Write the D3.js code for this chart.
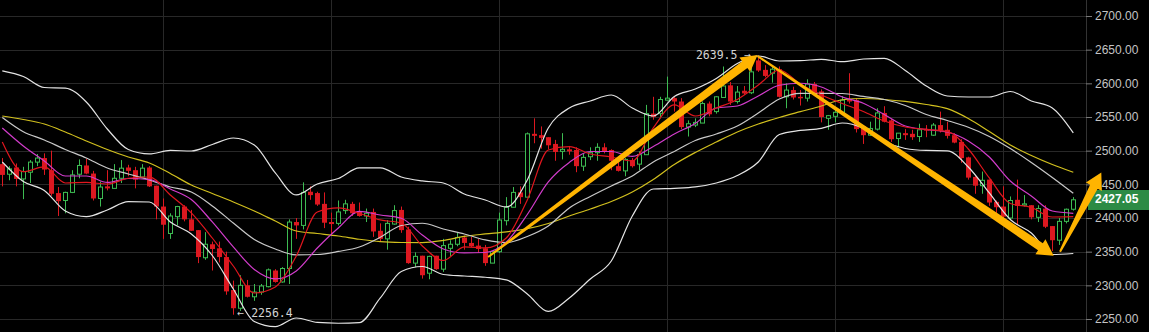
<!DOCTYPE html>
<html>
<head>
<meta charset="utf-8">
<script src="https://cdn.jsdelivr.net/npm/d3@7"></script>
<style>
  html, body { margin: 0; background: #000; overflow: hidden; }
  svg { display: block; }
</style>
</head>
<body>
<svg id="chart" width="1149" height="332"></svg>
<script>
// --- candles (one per bar, left to right) ---
const open = [2480,2465,2475,2458,2468,2483,2489,2471,2437,2426,
  2438,2465,2478,2466,2429,2447,2444,2459,2475,2471,
  2461,2475,2448,2417,2377,2402,2417,2398,2382,2341,
  2361,2355,2342,2293,2266,2300,2283,2290,2298,2322,
  2305,2325,2394,2389,2439,2437,2421,2394,2392,2411,
  2421,2409,2403,2409,2381,2369,2391,2412,2383,2333,
  2344,2318,2344,2324,2355,2361,2371,2363,2359,2355,
  2333,2350,2396,2416,2438,2431,2525,2523,2520,2510,
  2499,2502,2501,2477,2491,2497,2505,2501,2477,2470,
  2486,2480,2494,2555,2555,2575,2578,2573,2535,2538,
  2541,2570,2558,2579,2597,2573,2589,2586,2634,2620,
  2615,2621,2580,2590,2580,2578,2599,2588,2548,2551,
  2557,2576,2575,2536,2523,2532,2556,2545,2518,2526,
  2525,2521,2532,2523,2538,2531,2523,2513,2490,2461,
  2448,2457,2424,2417,2400,2427,2419,2419,2401,2414,
  2388,2367,2395,2413];
const high = [2489,2477,2481,2476,2486,2495,2496,2500,2446,2439,
  2471,2487,2488,2470,2454,2471,2480,2486,2479,2476,
  2480,2477,2448,2429,2407,2418,2419,2412,2382,2379,
  2365,2365,2350,2307,2315,2308,2302,2302,2325,2324,
  2327,2398,2400,2453,2447,2439,2438,2408,2426,2427,
  2424,2423,2414,2414,2392,2397,2419,2417,2387,2349,
  2344,2344,2344,2369,2367,2379,2374,2372,2369,2360,
  2350,2408,2431,2446,2447,2527,2548,2536,2520,2516,
  2526,2507,2505,2496,2505,2511,2511,2502,2486,2489,
  2489,2499,2568,2580,2580,2610,2580,2578,2545,2548,
  2573,2573,2581,2625,2602,2596,2596,2635,2639.5,2627,
  2627,2625,2600,2595,2590,2606,2602,2591,2553,2564,
  2581,2615,2578,2538,2543,2563,2566,2547,2526,2532,
  2531,2540,2538,2541,2558,2543,2526,2517,2491,2462,
  2469,2457,2426,2447,2432,2457,2434,2419,2419,2419,
  2388,2400,2414,2431];
const low = [2447,2456,2447,2428,2452,2477,2464,2433,2403,2407,
  2437,2459,2465,2426,2417,2441,2444,2452,2462,2444,
  2461,2446,2398,2369,2369,2389,2395,2381,2333,2338,
  2322,2334,2286,2256.4,2262,2282,2277,2286,2297,2304,
  2304,2302,2369,2383,2427,2418,2385,2374,2389,2406,
  2403,2402,2394,2372,2365,2353,2390,2378,2332,2327,
  2310,2309,2323,2320,2343,2358,2353,2357,2348,2329,
  2333,2348,2389,2416,2421,2431,2511,2503,2502,2485,
  2487,2494,2468,2470,2486,2485,2496,2471,2469,2462,
  2475,2471,2494,2546,2548,2575,2558,2532,2521,2535,
  2541,2551,2555,2579,2568,2570,2583,2584,2617,2609,
  2601,2579,2563,2576,2567,2573,2584,2542,2531,2542,
  2556,2570,2527,2510,2522,2530,2542,2513,2505,2516,
  2516,2513,2520,2522,2527,2518,2511,2482,2457,2436,
  2436,2418,2407,2397,2397,2390,2417,2398,2394,2385,
  2351,2360,2392,2411];
const close = [2464,2473,2458,2469,2483,2489,2472,2436,2425,2438,
  2464,2478,2466,2429,2446,2444,2459,2474,2470,2457,
  2474,2447,2417,2390,2403,2417,2398,2381,2342,2361,
  2354,2342,2291,2266,2300,2283,2290,2299,2323,2305,
  2325,2394,2389,2438,2434,2420,2393,2391,2409,2421,
  2407,2403,2407,2380,2369,2392,2411,2382,2333,2343,
  2315,2343,2324,2359,2361,2371,2363,2358,2354,2333,
  2350,2397,2416,2438,2431,2525,2522,2519,2508,2498,
  2502,2499,2477,2490,2497,2505,2499,2485,2470,2487,
  2477,2494,2555,2550,2576,2578,2573,2535,2540,2542,
  2570,2554,2580,2596,2573,2587,2585,2617,2619,2611,
  2621,2580,2590,2579,2578,2599,2586,2550,2552,2557,
  2575,2573,2532,2523,2533,2556,2543,2517,2526,2523,
  2520,2531,2530,2538,2530,2522,2512,2489,2460,2448,
  2456,2423,2416,2402,2426,2418,2421,2401,2414,2387,
  2367,2395,2413,2427.05];

// --- indicator lines, read every 3rd bar ---
const lineIdx = d3.range(0, 154, 3);
const bbUpper = [2618.6,2610.2,2593.8,2593.0,2572.3,2532.2,2501.7,2495.1,2500.3,2499.5,
  2509.2,2518.8,2508.4,2466.9,2434.2,2450.5,2458.7,2474.3,2474.3,2460.9,
  2455.0,2452.0,2435.7,2426.8,2416.4,2456.5,2533.7,2563.4,2573.8,2582.7,
  2563.4,2551.5,2580.5,2591.6,2607.2,2629.5,2640.6,2633.2,2633.6,2635.7,
  2632.1,2636.1,2637.2,2619.1,2596.0,2581.2,2579.7,2579.7,2587.9,2573.8,
  2563.4,2526.3];
const bbMid = [2549.3,2528.2,2515.9,2501.8,2489.1,2474.3,2465.4,2456.5,2446.1,2438.6,
  2417.9,2392.6,2368.1,2354.0,2345.1,2345.8,2350.3,2357.0,2371.4,2388.9,
  2392.2,2383.7,2376.3,2367.4,2363.4,2372.6,2388.2,2414.9,2432.0,2447.6,
  2462.4,2483.2,2498.8,2515.1,2524.8,2536.7,2556.0,2576.8,2585.2,2585.2,
  2584.9,2580.5,2576.0,2567.1,2553.7,2544.8,2534.7,2521.1,2503.2,2482.5,
  2460.2,2436.7];
const bbLower = [2483.2,2454.2,2440.9,2410.4,2402.0,2411.9,2424.2,2423.8,2394.1,2376.3,
  2344.3,2294.6,2246.3,2238.6,2251.5,2244.9,2243.7,2244.6,2281.2,2320.6,
  2328.0,2316.1,2313.9,2312.0,2308.0,2287.2,2261.2,2281.2,2309.5,2336.2,
  2403.0,2443.1,2444.1,2446.1,2452.0,2463.1,2483.2,2524.0,2530.0,2533.2,
  2541.1,2533.2,2513.6,2503.2,2500.3,2499.8,2475.8,2437.2,2397.8,2377.8,
  2345.8,2347.3];
const maSlow = [2551.5,2546.3,2539.6,2527.7,2514.4,2501.8,2490.6,2481.7,2466.1,2449.0,
  2436.4,2423.8,2410.4,2395.6,2380.7,2377.0,2373.3,2368.4,2364.8,2363.6,
  2363.4,2366.6,2372.6,2376.3,2379.5,2384.2,2391.9,2403.0,2413.4,2424.5,
  2438.6,2457.2,2479.5,2497.3,2512.9,2527.7,2539.6,2549.3,2557.9,2566.3,
  2575.6,2577.5,2576.0,2573.1,2568.6,2562.4,2547.8,2528.5,2508.4,2492.9,
  2479.5,2467.9];
const ma10 = [2533.7,2507.0,2484.7,2462.4,2462.4,2452.8,2458.7,2457.2,2443.1,2427.5,
  2394.1,2357.0,2323.6,2309.5,2321.4,2355.5,2385.2,2409.7,2404.5,2399.6,
  2374.8,2354.0,2348.1,2348.8,2364.4,2405.2,2453.5,2482.5,2498.8,2498.8,
  2491.4,2506.2,2524.8,2540.4,2563.4,2566.3,2581.2,2597.2,2600.1,2594.6,
  2579.7,2570.4,2553.7,2536.7,2531.5,2527.7,2514.4,2490.6,2455.0,2432.7,
  2410.4,2407.0];
const ma5 = [2512.9,2468.8,2475.8,2452.0,2452.8,2450.5,2459.0,2460.9,2434.2,2407.5,
  2370.3,2328.7,2288.6,2297.6,2343.6,2408.9,2414.9,2407.0,2397.1,2392.6,
  2358.5,2336.9,2357.0,2355.5,2370.3,2426.8,2501.0,2505.9,2495.1,2490.6,
  2484.7,2533.7,2567.9,2551.5,2563.4,2576.0,2597.5,2619.8,2599.0,2582.7,
  2570.1,2558.2,2544.1,2535.2,2531.5,2528.5,2502.5,2459.5,2421.6,2415.6,
  2401.5,2402.0];

// --- axis / annotations ---
const priceTicks = [2250, 2300, 2350, 2400, 2450, 2500, 2550, 2600, 2650, 2700];
const gridIdx = [23, 47, 71, 95, 119, 143];
const lastPrice = 2427.05;
const highMark = { idx: 108, price: 2639.5, text: "2639.5 →" };
const lowMark = { idx: 33, price: 2256.4, text: "← 2256.4" };
// trend arrows: [bar index, price] start -> tip
const arrows = [
  { from: [69.4, 2342], to: [107.9, 2642] },
  { from: [107.9, 2640.5], to: [150.2, 2344] },
  { from: [151.1, 2350], to: [157.0, 2467.5] }
];

const W = 1149, H = 332;
const plotRight = 1086;
const svg = d3.select("#chart");

svg.append("rect").attr("width", W).attr("height", H).attr("fill", "#000");

const x = d3.scaleLinear().domain([0, 153]).range([2.3, 1073.3]);
const y = d3.scaleLinear().domain([2250, 2700]).range([319, 16]);

// grid
const grid = svg.append("g").attr("stroke", "#282828").attr("stroke-width", 1);
grid.selectAll("line.h").data(priceTicks).join("line")
  .attr("x1", 0).attr("x2", plotRight)
  .attr("y1", d => Math.round(y(d)) + 0.5).attr("y2", d => Math.round(y(d)) + 0.5);
grid.selectAll("line.v").data(gridIdx).join("line")
  .attr("x1", d => Math.round(x(d)) + 0.5).attr("x2", d => Math.round(x(d)) + 0.5)
  .attr("y1", 0).attr("y2", H);

// candles
const up = "#3dbb52", down = "#dc1820";
const bars = d3.range(open.length).map(i => ({ i, o: open[i], h: high[i], l: low[i], c: close[i] }));
const cg = svg.append("g");
bars.forEach(d => {
  const cx = Math.round(x(d.i));
  const rising = d.c >= d.o;
  const col = rising ? up : down;
  cg.append("line")
    .attr("x1", cx + 0.5).attr("x2", cx + 0.5)
    .attr("y1", y(d.h)).attr("y2", y(d.l))
    .attr("stroke", col).attr("stroke-width", 1);
  const top = y(Math.max(d.o, d.c)), bot = y(Math.min(d.o, d.c));
  if (rising) {
    cg.append("rect")
      .attr("x", cx - 1.5).attr("y", top)
      .attr("width", 4).attr("height", Math.max(1, bot - top))
      .attr("fill", "#000").attr("stroke", col).attr("stroke-width", 1);
  } else {
    cg.append("rect")
      .attr("x", cx - 2).attr("y", top)
      .attr("width", 5).attr("height", Math.max(1.5, bot - top))
      .attr("fill", col);
  }
});

// indicator lines
const line = d3.line()
  .x((d, k) => x(lineIdx[k]))
  .y(d => y(d))
  .curve(d3.curveMonotoneX);
const series = [
  { v: maSlow, color: "#d2c01e", w: 1.2 },
  { v: bbUpper, color: "#e4e4e4", w: 1.2 },
  { v: bbMid, color: "#c9c9c9", w: 1.2 },
  { v: bbLower, color: "#e4e4e4", w: 1.2 },
  { v: ma10, color: "#d23ccb", w: 1.2 },
  { v: ma5, color: "#e0161e", w: 1.2 }
];
svg.append("g").selectAll("path").data(series).join("path")
  .attr("d", s => line(s.v))
  .attr("fill", "none")
  .attr("stroke", s => s.color)
  .attr("stroke-width", s => s.w);

// high / low marks
const markFont = "'DejaVu Sans Mono', monospace";
svg.append("text")
  .attr("x", x(highMark.idx) - 7).attr("y", y(highMark.price) - 1.5)
  .attr("text-anchor", "end").attr("dominant-baseline", "middle")
  .attr("font-family", markFont).attr("font-size", 11.5).attr("fill", "#d4d4d4")
  .text(highMark.text);
svg.append("text")
  .attr("x", x(lowMark.idx) + 4).attr("y", y(lowMark.price) - 1.5)
  .attr("dominant-baseline", "middle")
  .attr("font-family", markFont).attr("font-size", 11.5).attr("fill", "#d4d4d4")
  .text(lowMark.text);

// right price axis
svg.append("line")
  .attr("x1", plotRight + 0.5).attr("x2", plotRight + 0.5)
  .attr("y1", 0).attr("y2", H)
  .attr("stroke", "#333");
const axis = svg.append("g")
  .attr("transform", `translate(${plotRight},0)`)
  .call(d3.axisRight(y).tickValues(priceTicks).tickFormat(d3.format(".2f")).tickSize(6).tickPadding(3));
axis.select(".domain").remove();
axis.selectAll(".tick line").attr("stroke", "#7a7a7a");
axis.selectAll(".tick text")
  .attr("fill", "#c4c4c4")
  .attr("font-family", "'Liberation Sans', Arial, sans-serif")
  .attr("font-size", 12);

// last price label
const py = y(lastPrice);
svg.append("rect")
  .attr("x", plotRight + 2).attr("y", Math.round(py) - 10)
  .attr("width", W - plotRight - 2).attr("height", 20)
  .attr("fill", "#2c8b45");
svg.append("text")
  .attr("x", plotRight + 9).attr("y", py)
  .attr("dominant-baseline", "middle")
  .attr("font-family", "'Liberation Sans', Arial, sans-serif")
  .attr("font-size", 12).attr("font-weight", "bold")
  .attr("fill", "#fff")
  .text(d3.format(".2f")(lastPrice));

// trend arrows (tapered shaft + head)
function arrowPath(a) {
  const x0 = x(a.from[0]), y0 = y(a.from[1]);
  const x1 = x(a.to[0]), y1 = y(a.to[1]);
  const len = Math.hypot(x1 - x0, y1 - y0);
  const ux = (x1 - x0) / len, uy = (y1 - y0) / len;
  const nx = -uy, ny = ux;
  const headLen = 16, headW = 9, w0 = 1, w1 = 4.3;
  const bx = x1 - ux * headLen, by = y1 - uy * headLen;
  const pts = [
    [x0 + nx * w0, y0 + ny * w0],
    [bx + nx * w1, by + ny * w1],
    [bx + nx * headW, by + ny * headW],
    [x1, y1],
    [bx - nx * headW, by - ny * headW],
    [bx - nx * w1, by - ny * w1],
    [x0 - nx * w0, y0 - ny * w0]
  ];
  return "M" + pts.map(p => p.join(",")).join("L") + "Z";
}
svg.append("g").selectAll("path").data(arrows).join("path")
  .attr("d", arrowPath)
  .attr("fill", "#ffb400");
</script>
</body>
</html>
